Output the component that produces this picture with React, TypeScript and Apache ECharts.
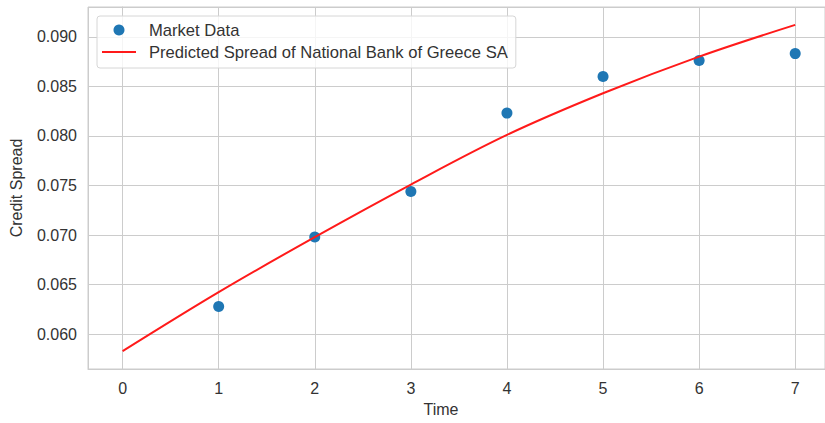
import React, { useEffect, useRef } from "react";
import * as echarts from "echarts";

const timePoints = [1, 2, 3, 4, 5, 6, 7];
const marketSpread = [0.0628, 0.0698, 0.0744, 0.0823, 0.0860, 0.0876, 0.0883];

const curveTimes = [0, 1, 2, 3, 4, 5, 6, 7];
const predictedSpread = [0.0583, 0.06425, 0.0698, 0.0751, 0.0801, 0.0843, 0.0880, 0.0912];

const FONT = "'Liberation Sans', Arial, sans-serif";

export default function App() {
  const ref = useRef<HTMLDivElement>(null);
  useEffect(() => {
    document.body.style.margin = "0";
    if (!ref.current) return;
    const chart = echarts.init(ref.current, null, { renderer: "svg" });
    const isMult = (v: number, step: number) => Math.abs(v / step - Math.round(v / step)) < 1e-6;
    chart.setOption({
      animation: false,
      backgroundColor: "#ffffff",
      textStyle: { fontFamily: FONT },
      grid: {
        left: 88,
        top: 7,
        right: 0,
        bottom: 54,
        show: true,
        borderColor: "#cccccc",
        borderWidth: 1,
      },
      legend: {
        orient: "vertical",
        left: 97,
        top: 16,
        padding: [4, 8, 6, 5],
        itemGap: 2,
        itemWidth: 34,
        itemHeight: 11,
        backgroundColor: "rgba(255,255,255,0.8)",
        borderColor: "#d6d6d6",
        borderWidth: 1,
        borderRadius: 3,
        textStyle: {
          fontSize: 16.6,
          lineHeight: 20,
          color: "#333333",
          fontFamily: FONT,
          padding: [0, 0, 0, 8],
        },
        data: [
          { name: "Market Data", icon: "circle" },
          {
            name: "Predicted Spread of National Bank of Greece SA",
            icon: "path://M0,0 L34,0 L34,2 L0,2 Z",
          },
        ],
      },
      xAxis: {
        type: "value",
        min: -0.36,
        max: 7.31,
        splitNumber: 8,
        axisLine: { show: true, lineStyle: { color: "#cccccc" } },
        axisTick: { show: false },
        splitLine: { show: true, lineStyle: { color: "#cccccc", width: 1 } },
        axisLabel: {
          fontSize: 16,
          color: "#333333",
          fontFamily: FONT,
          margin: 11,
          showMinLabel: false,
          showMaxLabel: false,
          formatter: (v: number) => (isMult(v, 1) ? String(Math.round(v)) : ""),
        },
      },
      yAxis: {
        type: "value",
        min: 0.0565,
        max: 0.093,
        splitNumber: 7,
        name: "Credit Spread",
        nameLocation: "middle",
        nameGap: 64,
        nameTextStyle: { fontSize: 16, color: "#333333", fontFamily: FONT },
        axisLine: { show: true, lineStyle: { color: "#cccccc" } },
        axisTick: { show: false },
        splitLine: { show: true, lineStyle: { color: "#cccccc", width: 1 } },
        axisLabel: {
          fontSize: 16,
          color: "#333333",
          fontFamily: FONT,
          margin: 11,
          showMinLabel: false,
          showMaxLabel: false,
          formatter: (v: number) => (isMult(v, 0.005) ? v.toFixed(3) : ""),
        },
      },
      graphic: [
        {
          type: "text",
          x: 441,
          y: 409,
          style: {
            text: "Time",
            fontSize: 16,
            fill: "#333333",
            fontFamily: FONT,
            align: "center",
            verticalAlign: "middle",
          },
        },
      ],
      series: [
        {
          name: "Market Data",
          type: "scatter",
          symbol: "circle",
          symbolSize: 11,
          itemStyle: { color: "#1f77b4", opacity: 1 },
          data: timePoints.map((t, i) => [t, marketSpread[i]]),
          z: 3,
        },
        {
          name: "Predicted Spread of National Bank of Greece SA",
          type: "line",
          smooth: 0.35,
          showSymbol: false,
          symbol: "none",
          lineStyle: { color: "#ff1a1a", width: 2 },
          itemStyle: { color: "#ff1a1a" },
          data: curveTimes.map((t, i) => [t, predictedSpread[i]]),
          z: 4,
        },
      ],
    });
    return () => chart.dispose();
  }, []);
  return <div ref={ref} style={{ width: 825, height: 423 }} />;
}
